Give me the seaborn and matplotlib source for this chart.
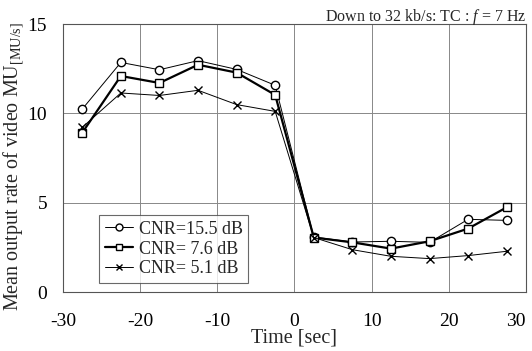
import matplotlib
matplotlib.use("Agg")
import matplotlib.pyplot as plt
import seaborn as sns
import pandas as pd

# Measurement times (s) relative to the rate switch
time_sec = [-27.5, -22.5, -17.5, -12.5, -7.5, -2.5, 2.5, 7.5, 12.5, 17.5, 22.5, 27.5]

# Mean output rate of video MU [MU/s] for each CNR
cnr_155 = [10.24, 12.85, 12.44, 12.95, 12.46, 11.57, 3.08, 2.80, 2.84, 2.78, 4.07, 4.01]
cnr_76 = [8.92, 12.09, 11.70, 12.72, 12.28, 11.03, 3.05, 2.78, 2.43, 2.84, 3.55, 4.74]
cnr_51 = [9.22, 11.14, 11.00, 11.29, 10.49, 10.11, 3.05, 2.37, 2.00, 1.87, 2.04, 2.28]

labels = ["CNR=15.5 dB", "CNR= 7.6 dB", "CNR= 5.1 dB"]
x_ticks = [-30, -20, -10, 0, 10, 20, 30]
y_ticks = [0, 5, 10, 15]

df = pd.DataFrame({
    "time": time_sec * 3,
    "rate": cnr_155 + cnr_76 + cnr_51,
    "cnr": [labels[0]] * 12 + [labels[1]] * 12 + [labels[2]] * 12,
})

sns.set_theme(style="white")
plt.rcParams["font.family"] = ["Liberation Serif", "DejaVu Serif"]
plt.rcParams["mathtext.fontset"] = "custom"
plt.rcParams["mathtext.rm"] = "Liberation Serif"
plt.rcParams["mathtext.it"] = "Liberation Serif:italic"

fig = plt.figure(figsize=(5.32, 3.51), dpi=100)
ax = fig.add_axes([0.1184, 0.168, 0.8703, 0.7636])

styles = {
    labels[0]: dict(marker="o", lw=0.7, ms=6),
    labels[1]: dict(marker="s", lw=1.6, ms=6),
    labels[2]: dict(marker="x", lw=0.7, ms=6),
}
for lab in labels:
    st = styles[lab]
    sub = df[df["cnr"] == lab]
    sns.lineplot(data=sub, x="time", y="rate", ax=ax, color="black",
                 lw=st["lw"], marker=st["marker"], markersize=st["ms"],
                 markerfacecolor="white", markeredgecolor="black",
                 markeredgewidth=1.0, label=lab)

ax.set_xlim(-30, 30)
ax.set_ylim(0, 15)
ax.set_xticks(x_ticks)
ax.set_yticks(y_ticks)
ax.set_xticklabels([str(v) for v in x_ticks])
ax.get_xticklabels()[-1].set_horizontalalignment("right")
ax.grid(True, color="#888888", lw=0.7)
for sp in ax.spines.values():
    sp.set_color("#555555")
    sp.set_linewidth(0.8)
ax.tick_params(axis="both", length=0, labelsize=14, colors="black")
ax.tick_params(axis="x", pad=15)
ax.tick_params(axis="y", pad=11.5)

ax.set_xlabel("Time [sec]", fontsize=14.5, labelpad=-1)
ax.set_ylabel("Mean output rate of video MU$_{\\mathrm{[MU/s]}}$", fontsize=14.5)
ax.yaxis.set_label_coords(-0.08, 0.47)
ax.set_title("Down to 32 kb/s: TC : $f$ = 7 Hz", fontsize=11.5, loc="right", pad=2)

leg = ax.legend(loc="lower left", bbox_to_anchor=(0.078, 0.035), fontsize=13,
                frameon=True, fancybox=False, edgecolor="#444444",
                handlelength=1.6, handletextpad=0.3, borderpad=0.3,
                labelspacing=0.15, borderaxespad=0)
leg.get_frame().set_linewidth(0.8)
for h in leg.legend_handles:
    h.set_markersize(5)

fig.savefig("out.png", dpi=100, facecolor="white")
